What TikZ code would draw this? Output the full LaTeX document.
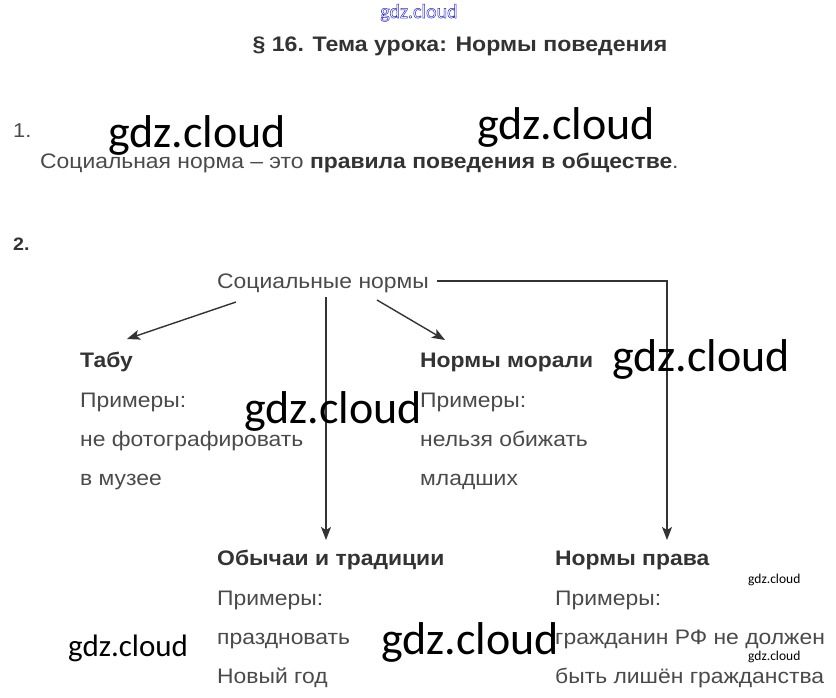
\documentclass[tikz,border=0pt]{standalone}
\usepackage{fontspec}
\setmainfont{Liberation Sans}[FakeStretch=1.09]
\newfontfamily\titlefont{Liberation Sans}[FakeStretch=1.1]
\newfontfamily\wmfont{Carlito}
\usetikzlibrary{arrows.meta}
\definecolor{txtgray}{HTML}{4A4A4A}
\definecolor{boldgray}{HTML}{333333}
\definecolor{linegray}{HTML}{333333}
\definecolor{wmblue}{HTML}{2B2BD0}
\tikzset{
  body/.style={anchor=base west, inner sep=0pt, text=txtgray, font=\fontsize{21}{21}\selectfont},
  head/.style={anchor=base west, inner sep=0pt, text=boldgray, font=\fontsize{21}{21}\selectfont\bfseries},
  num/.style={anchor=base west, inner sep=0pt, text=boldgray, font=\fontsize{18}{18}\selectfont\bfseries},
  wm/.style={anchor=base west, inner sep=0pt, text=black, font=\wmfont\fontsize{46}{46}\selectfont},
  wmsmall/.style={anchor=base west, inner sep=0pt, text=black, font=\wmfont\fontsize{13.5}{13.5}\selectfont},
  conn/.style={draw=linegray, line width=1.4pt},
  arr/.style={conn, -{Stealth[length=13pt,width=10pt,inset=3pt]}},
}
\begin{document}
\begin{tikzpicture}[x=1pt,y=-1pt]
\useasboundingbox (0,0) rectangle (836,697);
% top watermark
\node[anchor=base, inner sep=0pt, text=wmblue, font=\wmfont\fontsize{20}{20}\selectfont] (wmtop) at (419,18)
  {\special{pdf:literal direct 1 Tr 0.5 w}gdz.cloud\special{pdf:literal direct 0 Tr}};
% title
\node[anchor=base, inner sep=0pt, text=boldgray, font=\titlefont\fontsize{21}{21}\selectfont\bfseries] (title) at (460,51) {§ 16. Тема урока: Нормы поведения};
% task 1
\node[anchor=base west, inner sep=0pt, text=txtgray, font=\fontsize{20}{20}\selectfont] (n1) at (13,137) {1.};
\node[body] (def) at (40,168) {Социальная норма – это \textbf{\color{boldgray}правила поведения в обществе}.};
% task 2
\node[num] (n2) at (13,250) {2.};
\node[body] (soc) at (217,288) {Социальные нормы};
% Tabu
\node[head] (tabu) at (80,367) {Табу};
\node[body] (tabu1) at (80,407) {Примеры:};
\node[body] (tabu2) at (80,446) {не фотографировать};
\node[body] (tabu3) at (80,485) {в музее};
% Morals
\node[head] (mor) at (420,367) {Нормы морали};
\node[body] (mor1) at (420,407) {Примеры:};
\node[body] (mor2) at (420,446) {нельзя обижать};
\node[body] (mor3) at (420,485) {младших};
% Customs
\node[head] (cus) at (217,565) {Обычаи и традиции};
\node[body] (cus1) at (217,605) {Примеры:};
\node[body] (cus2) at (217,644) {праздновать};
\node[body] (cus3) at (217,683) {Новый год};
% Law
\node[head] (law) at (555,565) {Нормы права};
\node[body] (law1) at (555,605) {Примеры:};
\node[body] (law2) at (555,644) {гражданин РФ не должен};
\node[body] (law3) at (555,683) {быть лишён гражданства};
% connectors
\coordinate (a1s) at (236,302);
\coordinate (a1e) at (127,339);
\coordinate (a2s) at (326,297);
\coordinate (a2e) at (326,540);
\coordinate (a3s) at (377,300);
\coordinate (a3e) at (445,340);
\coordinate (a4s) at (437,281);
\coordinate (a4c) at (667,281);
\coordinate (a4e) at (667,540);
\draw[arr] (a1s) -- (a1e);
\draw[arr] (a2s) -- (a2e);
\draw[arr] (a3s) -- (a3e);
\draw[arr] (a4s) -- (a4c) -- (a4e);
% watermarks
\node[wm] (w1) at (108,147) {gdz.cloud};
\node[wm] (w2) at (477,139) {gdz.cloud};
\node[wm] (w3) at (612,371) {gdz.cloud};
\node[wm] (w4) at (244,423) {gdz.cloud};
\node[wm, font=\wmfont\fontsize{31}{31}\selectfont] (w5) at (68,656) {gdz.cloud};
\node[wm] (w6) at (381,654) {gdz.cloud};
\node[wmsmall] (w7) at (748,583) {gdz.cloud};
\node[wmsmall] (w8) at (748,660) {gdz.cloud};
\end{tikzpicture}
\end{document}
